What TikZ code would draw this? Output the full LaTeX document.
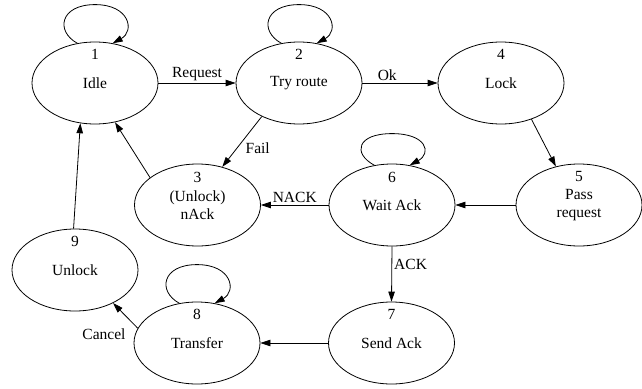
\documentclass[tikz,border=0pt]{standalone}
\usepackage{fontspec}
\setmainfont{Liberation Serif}
\usetikzlibrary{arrows.meta,shapes.geometric}

\tikzset{
  state/.style={ellipse, draw, line width=0.8pt, minimum width=126pt, minimum height=82pt, inner sep=0pt, align=center},
  num/.style={inner sep=0pt},
  arr/.style={line width=0.8pt, -{Triangle[length=10pt,width=6.5pt]}},
  lbl/.style={inner sep=2pt}
}

% loop drawn above a state, from its upper left to its upper right border;
% #2 is how far the apex rises above the top of the state
\newcommand\selfloop[2][37]{%
  \draw[arr] (#2.114) .. controls +(-22,-12) and +(-35,0) .. ([yshift=#1pt]#2.north)
    .. controls +(35,0) and +(22,-12) .. (#2.66);}

\begin{document}
\begin{tikzpicture}[x=1pt, y=-1pt, font=\fontsize{15.5}{17.5}\selectfont]
\useasboundingbox (0,0) rectangle (642,388);

% states
\node[state] (n1) at (95,83) {Idle};
\node[state] (n2) at (299,83) {Try route};
\node[state] (n4) at (501,83) {Lock};
\node[state] (n3) at (197.5,205) {(Unlock)\\nAck};
\node[state] (n6) at (392,205) {Wait Ack};
\node[state] (n5) at (579,205) {Pass\\request};
\node[state] (n9) at (75,270) {Unlock};
\node[state] (n8) at (197,343) {Transfer};
\node[state] (n7) at (391.5,343) {Send Ack};

% state numbers
\node[num] (k1) at (95,54) {1};
\node[num] (k2) at (299,54) {2};
\node[num] (k4) at (501,54) {4};
\node[num] (k3) at (197.5,177) {3};
\node[num] (k6) at (392,177) {6};
\node[num] (k5) at (579,176) {5};
\node[num] (k9) at (75,241) {9};
\node[num] (k8) at (197,314) {8};
\node[num] (k7) at (391.5,314) {7};

% self loops
\selfloop{n1}
\selfloop{n2}
\selfloop[30]{n6}
\selfloop{n8}

% transitions
\draw[arr] (n1.east) -- node[lbl, above] {Request} (n2.west);
\draw[arr] (n2.east) -- node[lbl, above, pos=0.33] {Ok} (n4.west);
\draw[arr] (n2.222) -- node[lbl, right, pos=0.62, xshift=6pt] {Fail} (n3.57);
\draw[arr] (n3.150) -- (n1.297);
\draw[arr] (n4.310) -- (n5.121);
\draw[arr] (n5.west) -- (n6.east);
\draw[arr] (n6.west) -- node[lbl, above] {NACK} (n3.east);
\draw[arr] (n6.south) -- node[lbl, right, pos=0.33] {ACK} (n7.north);
\draw[arr] (n7.west) -- (n8.east);
\draw[arr] (n8.166) -- (n9.319);
\node[lbl] (cancel) at (104,334) {Cancel};
\draw[arr] (n9.92) -- (n1.250);
\end{tikzpicture}
\end{document}
